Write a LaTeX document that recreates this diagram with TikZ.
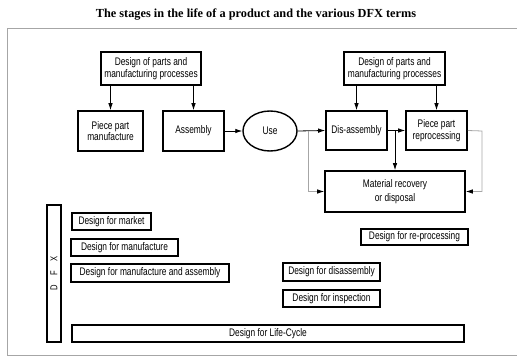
\documentclass[tikz,border=0pt]{standalone}
\usepackage{fontspec}
\setmainfont{Liberation Sans}
\newfontfamily\boxfont{Liberation Sans}[FakeStretch=0.76]
\newfontfamily\titlefont{Liberation Serif}
\usetikzlibrary{arrows.meta,shapes.geometric,calc}
\begin{document}
\begin{tikzpicture}[x=1pt,y=-1pt,
  bx/.style={draw,line width=1.6pt,inner sep=1pt,align=center,font=\boxfont\fontsize{11}{11.5}\selectfont},
  lbl/.style={draw,line width=1.6pt,inner sep=1pt,align=center,font=\boxfont\fontsize{11}{11.5}\selectfont},
  arr/.style={line width=0.8pt,-{Latex[length=7pt,width=4.5pt]}},
  garr/.style={line width=0.8pt,draw=black!35,-{Latex[length=7pt,width=4.5pt,color=black]}}]
\useasboundingbox (0,0) rectangle (517,363);
\node[font=\titlefont\bfseries\fontsize{12.3}{14}\selectfont] (title) at (256,15) {The stages in the life of a product and the various DFX terms};
\draw[black!35,line width=1pt] (7,29) rectangle (519,356);
% top section
\node[bx,minimum width=100pt,minimum height=33pt] (tl) at (151,68.5) {Design of parts and\\manufacturing processes};
\node[bx,minimum width=65pt,minimum height=40pt] (ppm) at (110.5,131) {Piece part\\manufacture};
\node[bx,minimum width=61pt,minimum height=40pt] (asm) at (193.5,131) {Assembly};
\node[draw,ellipse,line width=1.4pt,minimum width=54pt,minimum height=40pt,inner sep=0pt,font=\boxfont\fontsize{11}{11.5}\selectfont] (use) at (270,131) {Use};
\node[bx,minimum width=101pt,minimum height=33pt] (tr) at (394.5,68.5) {Design of parts and\\manufacturing processes};
\node[bx,minimum width=61pt,minimum height=39pt] (dis) at (356.5,130.5) {Dis-assembly};
\node[bx,minimum width=61pt,minimum height=39pt] (ppr) at (436.5,130.5) {Piece part\\reprocessing};
\node[bx,minimum width=140pt,minimum height=41pt,font=\boxfont\fontsize{11}{14}\selectfont] (mat) at (395,191.5) {Material recovery\\or disposal};
% connectors
\draw[arr] (ppm.north |- tl.south) -- (ppm.north);
\draw[arr] (asm.north |- tl.south) -- (asm.north);
\draw[arr] (asm.east) -- (use.west);
\draw[arr] (use.east) -- (dis.west);
\draw[arr] (dis.north |- tr.south) -- (dis.north);
\draw[arr] (ppr.north |- tr.south) -- (ppr.north);
\draw[arr] (dis.east) -- (ppr.west);
\draw[arr] (mat.north |- dis.east) -- (mat.north);
\coordinate (bl) at (308,131);
\coordinate (br) at (482,131);
\draw[garr] (bl) |- (mat.west);
\draw[garr] (ppr.east) -- (br) |- (mat.east);
% DFX section
\node[draw,line width=1.6pt,minimum width=14pt,minimum height=137pt,inner sep=0pt] (dfx) at (54,273.5) {};
\node[rotate=90,font=\boxfont\fontsize{10}{10}\selectfont] (dfxt) at (dfx.center) {D\hspace{9pt}F\hspace{9pt}X};
\node[lbl,minimum width=79pt,minimum height=17pt] (mkt) at (111.5,221.5) {Design for market};
\node[lbl,minimum width=107pt,minimum height=17pt] (mfg) at (124.5,247.5) {Design for manufacture};
\node[lbl,minimum width=158pt,minimum height=18pt] (mfa) at (150,273) {Design for manufacture and assembly};
\node[lbl,minimum width=392pt,minimum height=17pt] (lc) at (268,333.5) {Design for Life-Cycle};
\node[lbl,minimum width=97pt,minimum height=18pt] (dsa) at (331.5,272) {Design for disassembly};
\node[lbl,minimum width=97pt,minimum height=17pt] (insp) at (331.5,298.5) {Design for inspection};
\node[lbl,minimum width=107pt,minimum height=16pt] (rep) at (414.5,237) {Design for re-processing};
\end{tikzpicture}
\end{document}
